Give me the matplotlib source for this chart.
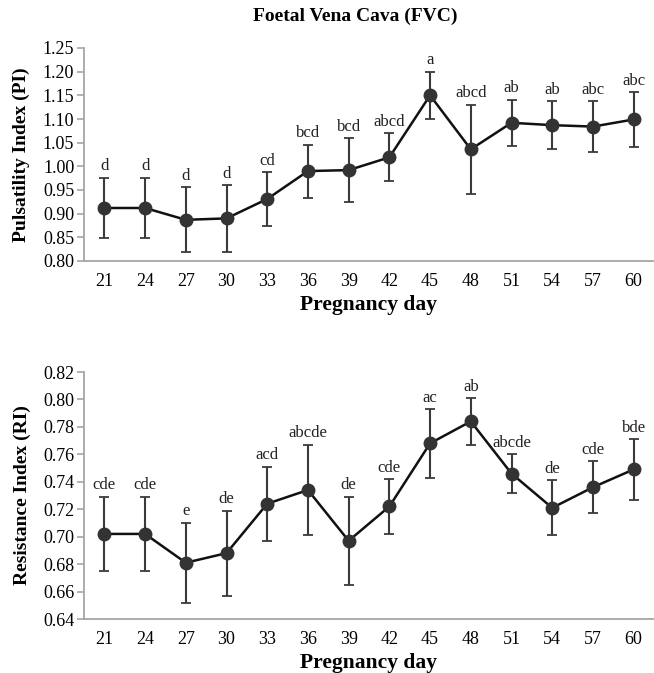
import numpy as np
import matplotlib
matplotlib.use("Agg")
import matplotlib.pyplot as plt

# pregnancy days (categories)
days = ["21", "24", "27", "30", "33", "36", "39", "42", "45", "48", "51", "54", "57", "60"]

# pulsatility index, mean and error
pi_mean = [0.912, 0.912, 0.887, 0.890, 0.931, 0.990, 0.992, 1.019, 1.150, 1.036, 1.092, 1.087, 1.084, 1.099]
pi_err = [0.064, 0.064, 0.069, 0.070, 0.057, 0.056, 0.067, 0.051, 0.050, 0.094, 0.049, 0.050, 0.053, 0.058]
pi_letters = ["d", "d", "d", "d", "cd", "bcd", "bcd", "abcd", "a", "abcd", "ab", "ab", "abc", "abc"]

# resistance index, mean and error
ri_mean = [0.702, 0.702, 0.681, 0.688, 0.724, 0.734, 0.697, 0.722, 0.768, 0.784, 0.746, 0.721, 0.736, 0.749]
ri_err = [0.027, 0.027, 0.029, 0.031, 0.027, 0.033, 0.032, 0.020, 0.025, 0.017, 0.014, 0.020, 0.019, 0.022]
ri_letters = ["cde", "cde", "e", "de", "acd", "abcde", "de", "cde", "ac", "ab", "abcde", "de", "cde", "bde"]

plt.rcParams['font.family'] = ['Liberation Serif', 'DejaVu Serif']

W, H = 654, 673
fig = plt.figure(figsize=(W / 100, H / 100), dpi=100)

ax1 = fig.add_axes([84 / W, 1 - 261 / H, (654 - 84) / W, (261 - 48) / H])
ax2 = fig.add_axes([84 / W, 1 - 619 / H, (654 - 84) / W, (619 - 372) / H])

x = np.arange(len(days))


def draw(ax, mean, err, letters, ylim, step, ylabel):
    ax.errorbar(x, mean, yerr=err, fmt="none", ecolor="#3a3a3a", elinewidth=1.5,
                capsize=3.5, capthick=1.3, zorder=2)
    ax.plot(x, mean, color="#111111", lw=1.8, marker="o", markersize=9,
            markerfacecolor="#333333", markeredgecolor="#333333", zorder=3)
    for xi, m, e, lab in zip(x, mean, err, letters):
        ax.annotate(lab, (xi, m + e), xytext=(0, 2.5), textcoords="offset points",
                    ha="center", va="bottom", fontsize=12, color="#222222")
    ax.set_xlim(-0.5, len(days) - 0.5)
    ax.set_ylim(*ylim)
    ax.set_yticks(np.arange(ylim[0], ylim[1] + step / 2, step))
    ax.yaxis.set_major_formatter(plt.FormatStrFormatter("%.2f"))
    ax.set_xticks(x)
    ax.set_xticklabels(days)
    for s in ["top", "right"]:
        ax.spines[s].set_visible(False)
    for s in ["left", "bottom"]:
        ax.spines[s].set_color("#a6a6a6")
        ax.spines[s].set_linewidth(1.3)
    ax.tick_params(axis="y", length=5, width=1.2, color="#a6a6a6", labelsize=13, pad=2)
    ax.tick_params(axis="x", length=0, labelsize=13, pad=9)
    ax.set_ylabel(ylabel, fontsize=14, fontweight="bold", labelpad=9)
    ax.set_xlabel("Pregnancy day", fontsize=15.5, fontweight="bold", labelpad=3)


draw(ax1, pi_mean, pi_err, pi_letters, (0.80, 1.25), 0.05, "Pulsatility Index (PI)")
draw(ax2, ri_mean, ri_err, ri_letters, (0.64, 0.82), 0.02, "Resistance Index (RI)")

fig.text(355 / W, 1 - 16 / H, "Foetal Vena Cava (FVC)", ha="center", va="center",
         fontsize=14, fontweight="bold")

fig.savefig("out.png", dpi=100)
